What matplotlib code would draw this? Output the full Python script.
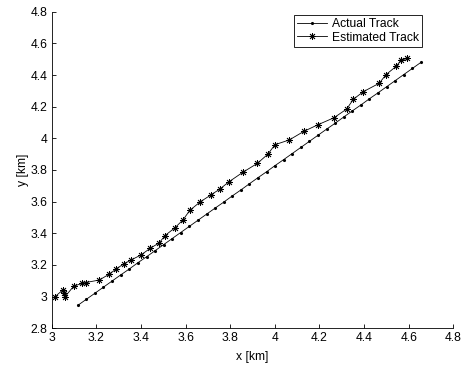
import numpy as np
import matplotlib
matplotlib.use('Agg')
import matplotlib.pyplot as plt

plt.rcParams['font.family'] = ['Liberation Sans', 'DejaVu Sans']

# actual track (km)
actual_x = [3.117, 3.155, 3.194, 3.232, 3.271, 3.309, 3.348, 3.386, 3.425, 3.463,
            3.502, 3.540, 3.578, 3.617, 3.655, 3.694, 3.732, 3.771, 3.809, 3.848,
            3.886, 3.924, 3.963, 4.001, 4.040, 4.078, 4.117, 4.155, 4.194, 4.232,
            4.271, 4.309, 4.347, 4.386, 4.424, 4.463, 4.501, 4.540, 4.578, 4.617, 4.655]
actual_y = [2.945, 2.983, 3.022, 3.060, 3.099, 3.137, 3.175, 3.214, 3.252, 3.290,
            3.329, 3.367, 3.405, 3.444, 3.482, 3.521, 3.559, 3.597, 3.636, 3.674,
            3.713, 3.751, 3.789, 3.828, 3.866, 3.904, 3.943, 3.981, 4.020, 4.058,
            4.096, 4.135, 4.173, 4.211, 4.250, 4.288, 4.326, 4.365, 4.403, 4.442, 4.480]

# estimated track (km)
est_x = [3.015, 3.052, 3.056, 3.060, 3.099, 3.138, 3.152, 3.213, 3.258, 3.290,
         3.324, 3.355, 3.401, 3.441, 3.482, 3.508, 3.553, 3.589, 3.619, 3.665,
         3.713, 3.754, 3.793, 3.856, 3.922, 3.968, 4.001, 4.065, 4.130, 4.195,
         4.265, 4.322, 4.352, 4.397, 4.468, 4.498, 4.543, 4.565, 4.594]
est_y = [3.000, 3.045, 3.023, 3.000, 3.067, 3.084, 3.089, 3.105, 3.142, 3.176,
         3.208, 3.231, 3.264, 3.305, 3.340, 3.386, 3.436, 3.486, 3.545, 3.598,
         3.642, 3.680, 3.724, 3.785, 3.842, 3.899, 3.960, 3.990, 4.044, 4.087,
         4.130, 4.185, 4.247, 4.295, 4.348, 4.402, 4.454, 4.492, 4.506]

xticks = [3, 3.2, 3.4, 3.6, 3.8, 4, 4.2, 4.4, 4.6, 4.8]
yticks = [2.8, 3, 3.2, 3.4, 3.6, 3.8, 4, 4.2, 4.4, 4.6, 4.8]

fs = 8.7
fig = plt.figure(figsize=(4.64, 3.65), dpi=100)
ax = fig.add_axes([0.1114, 0.1005, 0.8656, 0.8675])

ax.plot(actual_x, actual_y, color='k', lw=0.6, marker='.', ms=2.5, label='Actual Track')
ax.plot(est_x, est_y, color='k', lw=0.6, marker=(8, 2, 0), ms=5, mew=0.6,
        label='Estimated Track')

ax.set_xlim(3, 4.8)
ax.set_ylim(2.8, 4.8)
ax.set_xticks(xticks)
ax.set_yticks(yticks)
ax.set_xticklabels(['%g' % t for t in xticks])
ax.set_yticklabels(['%g' % t for t in yticks])
ax.tick_params(direction='in', length=3, width=0.6, labelsize=fs, pad=3)
for s in ['top', 'right']:
    ax.spines[s].set_visible(False)
for s in ['left', 'bottom']:
    ax.spines[s].set_linewidth(0.6)

ax.set_xlabel('x [km]', fontsize=fs, labelpad=4.5)
ax.set_ylabel('y [km]', fontsize=fs, labelpad=1.5)

leg = ax.legend(loc='upper right', bbox_to_anchor=(0.921, 0.99), borderaxespad=0,
                fontsize=fs, fancybox=False, framealpha=1, edgecolor='k',
                handlelength=2.5, handletextpad=0.4, borderpad=0.25,
                labelspacing=0.15)
leg.get_frame().set_linewidth(0.6)

fig.savefig('out.png', dpi=100)
